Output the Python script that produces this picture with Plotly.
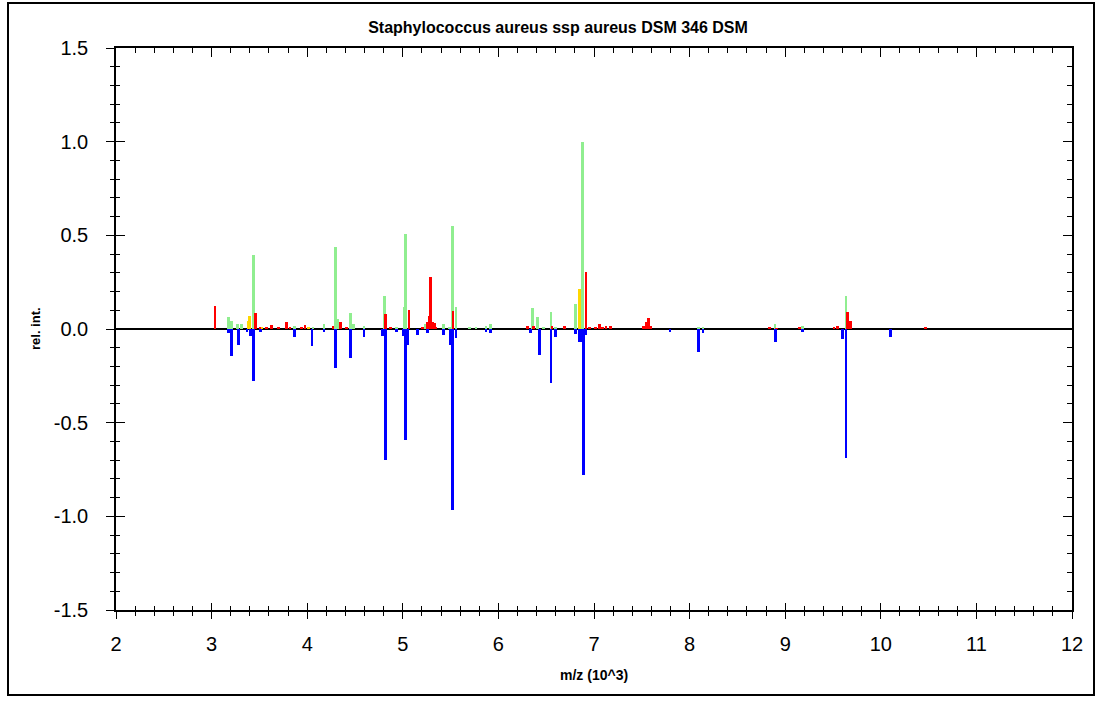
import plotly.graph_objects as go

# ---- data (m/z in 10^3, relative intensity) ----
red_x = [3.036, 3.46, 3.506, 3.576, 3.63, 3.70, 3.786, 3.82, 3.94, 3.977, 4.27, 4.35, 4.41,
         4.82, 4.87, 5.065, 5.204, 5.257, 5.274, 5.292, 5.31, 5.327, 5.347, 5.525,
         6.306, 6.37, 6.56, 6.69, 6.916, 6.95, 7.02, 7.056, 7.09, 7.125, 7.17,
         7.516, 7.55, 7.568, 7.59, 8.84, 8.91, 9.145, 9.51, 9.545, 9.654, 9.685, 10.47]
red_y = [0.124, 0.088, 0.012, 0.009, 0.021, 0.009, 0.039, 0.009, 0.009, 0.021, 0.018, 0.039, 0.009,
         0.082, 0.012, 0.100, 0.012, 0.035, 0.071, 0.278, 0.035, 0.030, 0.009, 0.097,
         0.018, 0.018, 0.018, 0.018, 0.304, 0.009, 0.009, 0.027, 0.012, 0.014, 0.018,
         0.014, 0.035, 0.057, 0.014, 0.009, 0.005, 0.009, 0.009, 0.018, 0.090, 0.044, 0.009]

green_x = [3.175, 3.21, 3.27, 3.31, 3.436, 3.87, 4.06, 4.176, 4.30, 4.32, 4.455, 4.48, 4.594,
           4.806, 4.93, 5.013, 5.03, 5.232, 5.43, 5.49, 5.522, 5.556, 5.696, 5.766, 5.87, 5.92,
           6.358, 6.41, 6.47, 6.55, 6.60, 6.81, 6.88, 8.09, 8.14, 8.893, 9.18, 9.636]
green_y = [0.062, 0.044, 0.027, 0.027, 0.393, 0.018, 0.009, 0.027, 0.439, 0.053, 0.088, 0.027, 0.018,
           0.177, 0.012, 0.119, 0.508, 0.027, 0.027, 0.012, 0.552, 0.115, 0.009, 0.009, 0.018, 0.027,
           0.110, 0.062, 0.009, 0.090, 0.009, 0.135, 1.000, 0.009, 0.009, 0.027, 0.018, 0.178]

yellow_x = [3.385, 3.40, 3.52, 4.01, 6.846]
yellow_y = [0.044, 0.071, 0.012, 0.009, 0.216]

blue_x = [3.175, 3.21, 3.28, 3.37, 3.41, 3.436, 3.51, 3.87, 4.05, 4.176, 4.30, 4.455, 4.594,
          4.79, 4.82, 4.93, 5.01, 5.03, 5.05, 5.15, 5.26, 5.43, 5.494, 5.522, 5.556, 5.87, 5.92,
          6.34, 6.43, 6.55, 6.60, 6.81, 6.846, 6.86, 6.888, 6.916, 7.795, 8.09, 8.14, 8.896,
          9.18, 9.60, 9.636, 10.10]
blue_y = [-0.023, -0.145, -0.085, -0.014, -0.040, -0.280, -0.014, -0.041, -0.092, -0.014, -0.209, -0.156, -0.041,
          -0.040, -0.700, -0.014, -0.035, -0.593, -0.085, -0.032, -0.021, -0.032, -0.085, -0.964, -0.046, -0.014, -0.023,
          -0.023, -0.138, -0.288, -0.041, -0.027, -0.071, -0.071, -0.778, -0.032, -0.016, -0.122, -0.023, -0.067,
          -0.016, -0.052, -0.690, -0.041]

x_ticks = [2, 3, 4, 5, 6, 7, 8, 9, 10, 11, 12]
x_ticklabels = ["2", "3", "4", "5", "6", "7", "8", "9", "10", "11", "12"]
y_ticks = [-1.5, -1.0, -0.5, 0.0, 0.5, 1.0, 1.5]
y_ticklabels = ["-1.5", "-1.0", "-0.5", "0.0", "0.5", "1.0", "1.5"]

title_text = "Staphylococcus aureus ssp aureus DSM 346 DSM"
x_title = "m/z (10^3)"
y_title = "rel. int."

# ---- styles ----
BAR_W = 0.03
FONT = "Liberation Sans, Arial, sans-serif"

fig = go.Figure()
for xs, ys, col in [(green_x, green_y, "#90ee90"), (yellow_x, yellow_y, "#ffd700"),
                    (red_x, red_y, "#ff0000"), (blue_x, blue_y, "#0000ff")]:
    fig.add_trace(go.Bar(x=xs, y=ys, width=BAR_W, marker=dict(color=col, line=dict(width=0)),
                         showlegend=False))

# dummy traces so the extra tick axes are drawn
fig.add_trace(go.Scatter(x=[None], y=[None], xaxis="x2", yaxis="y2", showlegend=False, hoverinfo="skip"))
fig.add_trace(go.Scatter(x=[None], y=[None], xaxis="x3", yaxis="y3", showlegend=False, hoverinfo="skip"))

XR = [2, 12]
YR = [-1.5, 1.5]
axis_common = dict(showgrid=False, showline=True, linecolor="black", linewidth=1.5,
                   tickcolor="black", tickwidth=1)

fig.update_layout(
    width=1105, height=701,
    margin=dict(l=116, r=33, t=48, b=91),
    paper_bgcolor="white", plot_bgcolor="white",
    barmode="overlay", bargap=0,
    font=dict(family=FONT, color="black"),
    title=dict(text=title_text, x=558 / 1105, xref="container", xanchor="center",
               y=1 - 27 / 701, yref="container", yanchor="middle",
               font=dict(size=16, family=FONT, weight="bold", color="black")),
    xaxis=dict(range=XR, tickvals=x_ticks, ticktext=x_ticklabels, ticks="outside", ticklen=7,
               tickfont=dict(size=20), ticklabelstandoff=8,
               minor=dict(dtick=0.2, ticks="outside", ticklen=4, tickcolor="black", tickwidth=1),
               zeroline=False, **axis_common),
    xaxis2=dict(range=XR, overlaying="x", side="bottom", anchor="y", showticklabels=False,
                tickvals=x_ticks, ticks="inside", ticklen=7,
                minor=dict(dtick=0.2, ticks="inside", ticklen=4, tickcolor="black", tickwidth=1),
                zeroline=False, **axis_common),
    xaxis3=dict(range=XR, overlaying="x", side="top", anchor="y", showticklabels=False,
                tickvals=x_ticks, ticks="inside", ticklen=9,
                minor=dict(dtick=0.2, ticks="inside", ticklen=5, tickcolor="black", tickwidth=1),
                zeroline=False, **axis_common),
    yaxis=dict(range=YR, tickvals=y_ticks, ticktext=y_ticklabels, ticks="outside", ticklen=8,
               tickfont=dict(size=20), ticklabelstandoff=14,
               minor=dict(dtick=0.1, ticks="outside", ticklen=4, tickcolor="black", tickwidth=1),
               zeroline=True, zerolinecolor="black", zerolinewidth=2, **axis_common),
    yaxis2=dict(range=YR, overlaying="y", side="left", anchor="x", showticklabels=False,
                tickvals=y_ticks, ticks="inside", ticklen=9,
                minor=dict(dtick=0.1, ticks="inside", ticklen=4, tickcolor="black", tickwidth=1),
                zeroline=False, **axis_common),
    yaxis3=dict(range=YR, overlaying="y", side="right", anchor="x", showticklabels=False,
                tickvals=y_ticks, ticks="inside", ticklen=9,
                minor=dict(dtick=0.1, ticks="inside", ticklen=5, tickcolor="black", tickwidth=1),
                zeroline=False, **axis_common),
)

fig.add_annotation(text=x_title, xref="paper", yref="paper", x=0.5, y=(610 - 675) / 562,
                   xanchor="center", yanchor="middle", showarrow=False,
                   font=dict(size=14, family=FONT, weight="bold", color="black"))
fig.add_annotation(text=y_title, xref="paper", yref="paper", x=(35 - 116) / 956, y=0.5,
                   xanchor="center", yanchor="middle", textangle=-90, showarrow=False,
                   font=dict(size=13, family=FONT, weight="bold", color="black"))

# outer frame
fig.add_shape(type="rect", xref="paper", yref="paper",
              x0=(8 - 116) / 956, x1=(1094 - 116) / 956,
              y0=(610 - 695) / 562, y1=(610 - 3) / 562,
              line=dict(color="black", width=2), fillcolor="rgba(0,0,0,0)", layer="below")

fig.write_html("out.html", config={"displayModeBar": False},
               post_script="document.body.style.margin='0';document.body.style.overflow='hidden';")
